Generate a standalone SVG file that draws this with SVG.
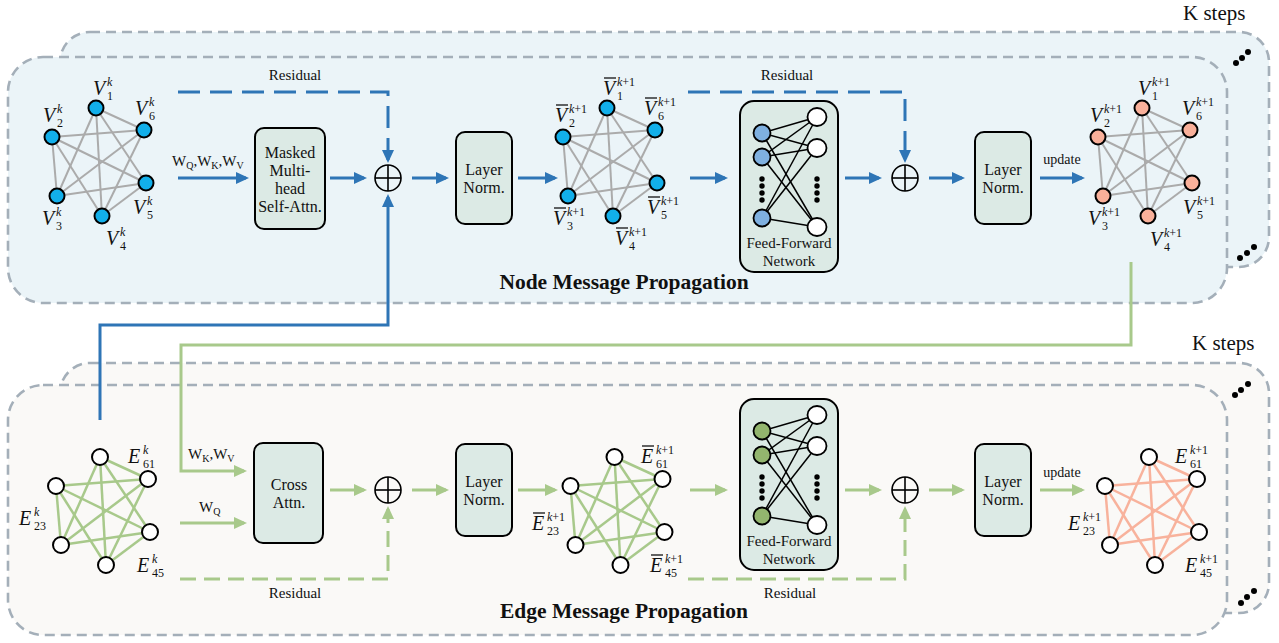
<svg xmlns="http://www.w3.org/2000/svg" xmlns:xlink="http://www.w3.org/1999/xlink" width="1279" height="643" viewBox="0 0 1279 643">
<style>
.panel{stroke:#A4AFB9;stroke-width:2.6;stroke-dasharray:10 6}
.pt{fill:#EBF4F8}
.pb{fill:#FAF9F7}
.box{fill:#DCEAE5;stroke:#000;stroke-width:2}
.t{font-family:"Liberation Serif","Times New Roman",serif;fill:#111}
.bt{font-size:16px;text-anchor:middle}
.res{font-size:15px;text-anchor:middle}
.ttl{font-size:21.5px;font-weight:bold;text-anchor:middle}
.ks{font-size:21px}
.mv{font-family:"Liberation Serif",serif;font-style:italic;font-size:20px;fill:#111}
.ms{font-family:"Liberation Serif",serif;font-size:12px;fill:#111}
.it{font-style:italic}
.bar{stroke:#111;stroke-width:1.3}
.ab{fill:none;stroke:#2E75B6;stroke-width:3}
.ag{fill:none;stroke:#A8C98B;stroke-width:3}
.dsb{stroke-dasharray:22 10}
.dsg{stroke-dasharray:16 8}
.plus{fill:none;stroke:#000;stroke-width:1.6}
.gray{stroke:#ABABAB;stroke-width:2}
.green{stroke:#A8C98B;stroke-width:2.5}
.salmon{stroke:#F8B29C;stroke-width:2.5}
.ffl{stroke:#000;stroke-width:1.5}
</style>
<defs>
<marker id="mb" viewBox="0 0 13 12" refX="10" refY="6" markerWidth="13" markerHeight="12" markerUnits="userSpaceOnUse" orient="auto"><path d="M0,0 L13,6 L0,12 z" fill="#2E75B6"/></marker>
<marker id="mg" viewBox="0 0 13 12" refX="10" refY="6" markerWidth="13" markerHeight="12" markerUnits="userSpaceOnUse" orient="auto"><path d="M0,0 L13,6 L0,12 z" fill="#A8C98B"/></marker>
<g id="edges">
<line x1="96" y1="108" x2="144" y2="130"/><line x1="96" y1="108" x2="57" y2="196"/><line x1="96" y1="108" x2="102" y2="216"/><line x1="96" y1="108" x2="146" y2="183"/>
<line x1="52" y1="137" x2="144" y2="130"/><line x1="52" y1="137" x2="57" y2="196"/><line x1="52" y1="137" x2="146" y2="183"/><line x1="52" y1="137" x2="102" y2="216"/>
<line x1="57" y1="196" x2="144" y2="130"/><line x1="57" y1="196" x2="146" y2="183"/><line x1="102" y1="216" x2="144" y2="130"/><line x1="102" y1="216" x2="146" y2="183"/>
</g>
<g id="nodesV" stroke="#000" stroke-width="2">
<circle cx="96" cy="108" r="7.5"/><circle cx="144" cy="130" r="7.5"/><circle cx="52" cy="137" r="7.5"/><circle cx="146" cy="183" r="7.5"/><circle cx="57" cy="196" r="7.5"/><circle cx="102" cy="216" r="7.5"/>
</g>
<g id="nodesE" stroke="#000" stroke-width="2" fill="#fff">
<circle cx="96" cy="108" r="8"/><circle cx="144" cy="130" r="8"/><circle cx="52" cy="137" r="8"/><circle cx="146" cy="183" r="8"/><circle cx="57" cy="196" r="8"/><circle cx="102" cy="216" r="8"/>
</g>
<g id="ffn">
<rect x="740" y="101" width="98" height="171" rx="14" class="box"/>
<g class="ffl">
<line x1="762" y1="133" x2="817" y2="117"/><line x1="762" y1="133" x2="817" y2="148"/><line x1="762" y1="133" x2="817" y2="227"/>
<line x1="762" y1="157" x2="817" y2="117"/><line x1="762" y1="157" x2="817" y2="148"/><line x1="762" y1="157" x2="817" y2="227"/>
<line x1="762" y1="218" x2="817" y2="117"/><line x1="762" y1="218" x2="817" y2="148"/><line x1="762" y1="218" x2="817" y2="227"/>
</g>
<g stroke="#000" stroke-width="1.8" fill="#fff">
<ellipse cx="817" cy="117" rx="9.5" ry="9"/><ellipse cx="817" cy="148" rx="9.5" ry="9"/><ellipse cx="817" cy="227" rx="9.5" ry="9"/>
</g>
<g fill="#000">
<circle cx="762" cy="179" r="2.7"/><circle cx="762" cy="186" r="2.7"/><circle cx="762" cy="193" r="2.7"/><circle cx="762" cy="200" r="2.7"/>
<circle cx="817" cy="179" r="2.7"/><circle cx="817" cy="186" r="2.7"/><circle cx="817" cy="193" r="2.7"/><circle cx="817" cy="200" r="2.7"/>
</g>
<text class="t" x="789" y="248" font-size="15" text-anchor="middle">Feed-Forward</text>
<text class="t" x="789" y="266" font-size="15" text-anchor="middle">Network</text>
</g>
<g id="ffin" stroke="#000" stroke-width="1.8">
<circle cx="762" cy="133" r="8.5"/><circle cx="762" cy="157" r="8.5"/><circle cx="762" cy="218" r="8.5"/>
</g>
<g id="plusg">
<circle cx="0" cy="0" r="13" class="plus"/>
<line x1="-13" y1="0" x2="13" y2="0" stroke="#000" stroke-width="1.6"/>
<line x1="0" y1="-13" x2="0" y2="13" stroke="#000" stroke-width="1.6"/>
</g>
</defs>

<g id="node-panel">
<rect x="60" y="32" width="1209" height="235" rx="30" class="pt panel"/>
<rect x="8" y="57" width="1219" height="246" rx="35" class="pt panel"/>
<g fill="#000"><circle cx="1236" cy="63" r="3"/><circle cx="1242" cy="58" r="3"/><circle cx="1248" cy="52" r="3"/>
<circle cx="1240" cy="258" r="3"/><circle cx="1247" cy="253" r="3"/><circle cx="1254" cy="247" r="3"/></g>
<text class="t ks" x="1183" y="20">K steps</text>
<text class="t ttl" x="624" y="289">Node Message Propagation</text>
</g>
<g id="edge-panel">
<rect x="60" y="363" width="1209" height="250" rx="30" class="pb panel"/>
<rect x="8" y="385" width="1219" height="250" rx="35" class="pb panel"/>
<g fill="#000"><circle cx="1235" cy="395" r="3"/><circle cx="1241" cy="390" r="3"/><circle cx="1248" cy="384" r="3"/>
<circle cx="1241" cy="603" r="3"/><circle cx="1247" cy="597" r="3"/><circle cx="1254" cy="591" r="3"/></g>
<text class="t ks" x="1192" y="350">K steps</text>
<text class="t ttl" x="624" y="618">Edge Message Propagation</text>
</g>

<g id="connectors">
<path class="ab" d="M178,178 H246" marker-end="url(#mb)"/>
<path class="ab" d="M330,178 H364" marker-end="url(#mb)"/>
<path class="ab" d="M412,178 H446" marker-end="url(#mb)"/>
<path class="ab" d="M518,178 H555" marker-end="url(#mb)"/>
<path class="ab" d="M690,178 H725" marker-end="url(#mb)"/>
<path class="ab" d="M845,178 H879" marker-end="url(#mb)"/>
<path class="ab" d="M929,178 H962" marker-end="url(#mb)"/>
<path class="ab" d="M1040,178 H1082" marker-end="url(#mb)"/>
<path class="ab dsb" d="M178,92 H388 V160" marker-end="url(#mb)"/>
<path class="ab dsb" d="M688,92 H905 V160" marker-end="url(#mb)"/>
<path class="ab" d="M100,420 V325 H388 V197" marker-end="url(#mb)"/>
<path class="ag" d="M1131,262 V345 H181 V471 H244" marker-end="url(#mg)"/>
<path class="ag" d="M180,523 H244" marker-end="url(#mg)"/>
<path class="ag" d="M330,490 H364" marker-end="url(#mg)"/>
<path class="ag" d="M412,490 H446" marker-end="url(#mg)"/>
<path class="ag" d="M518,490 H555" marker-end="url(#mg)"/>
<path class="ag" d="M690,490 H725" marker-end="url(#mg)"/>
<path class="ag" d="M845,490 H879" marker-end="url(#mg)"/>
<path class="ag" d="M929,490 H962" marker-end="url(#mg)"/>
<path class="ag" d="M1040,490 H1082" marker-end="url(#mg)"/>
<path class="ag dsg" d="M180,579 H388 V509" marker-end="url(#mg)"/>
<path class="ag dsg" d="M688,579 H905 V509" marker-end="url(#mg)"/>
<text class="t res" x="295" y="80">Residual</text>
<text class="t res" x="787" y="80">Residual</text>
<text class="t res" x="295" y="598">Residual</text>
<text class="t res" x="790" y="598">Residual</text>
<text class="t" x="172" y="166" font-size="15">W<tspan font-size="10" dy="3">Q</tspan><tspan dy="-3">,W</tspan><tspan font-size="10" dy="3">K</tspan><tspan dy="-3">,W</tspan><tspan font-size="10" dy="3">V</tspan></text>
<text class="t" x="188" y="459" font-size="15">W<tspan font-size="10" dy="3">K</tspan><tspan dy="-3">,W</tspan><tspan font-size="10" dy="3">V</tspan></text>
<text class="t" x="199" y="512" font-size="15">W<tspan font-size="10" dy="3">Q</tspan></text>
<text class="t" x="1062" y="164" font-size="14" text-anchor="middle">update</text>
<text class="t" x="1062" y="477" font-size="14" text-anchor="middle">update</text>
</g>

<g id="msa">
<rect x="255" y="128" width="70" height="101" rx="9" class="box"/>
<text class="t bt" x="290" y="158">Masked</text>
<text class="t bt" x="290" y="176">Multi-</text>
<text class="t bt" x="290" y="194">head</text>
<text class="t bt" x="290" y="212">Self-Attn.</text>
</g>
<g id="plus-top1" transform="translate(388,178)"><use xlink:href="#plusg"/></g>
<g id="ln-top1">
<rect x="456" y="132" width="56" height="92" rx="9" class="box"/>
<text class="t bt" x="484" y="175">Layer</text>
<text class="t bt" x="484" y="193">Norm.</text>
</g>
<g id="ffn-top"><use xlink:href="#ffn"/><use xlink:href="#ffin" fill="#7FB0E0"/></g>
<g id="plus-top2" transform="translate(905,178)"><use xlink:href="#plusg"/></g>
<g id="ln-top2">
<rect x="975" y="132" width="56" height="92" rx="9" class="box"/>
<text class="t bt" x="1003" y="175">Layer</text>
<text class="t bt" x="1003" y="193">Norm.</text>
</g>

<g id="cross-attn">
<rect x="254" y="443" width="69" height="100" rx="9" class="box"/>
<text class="t bt" x="289" y="490">Cross</text>
<text class="t bt" x="289" y="508">Attn.</text>
</g>
<g id="plus-bot1" transform="translate(388,490)"><use xlink:href="#plusg"/></g>
<g id="ln-bot1">
<rect x="456" y="444" width="56" height="92" rx="9" class="box"/>
<text class="t bt" x="484" y="487">Layer</text>
<text class="t bt" x="484" y="505">Norm.</text>
</g>
<g id="ffn-bot" transform="translate(0,298)"><use xlink:href="#ffn"/><use xlink:href="#ffin" fill="#93B56E"/></g>
<g id="plus-bot2" transform="translate(905,490)"><use xlink:href="#plusg"/></g>
<g id="ln-bot2">
<rect x="975" y="444" width="56" height="92" rx="9" class="box"/>
<text class="t bt" x="1003" y="487">Layer</text>
<text class="t bt" x="1003" y="505">Norm.</text>
</g>

<g id="graph-vk">
<use xlink:href="#edges" class="gray"/>
<use xlink:href="#nodesV" fill="#12AFEA"/>
<text class="mv" x="93" y="95">V</text><text class="ms it" x="107" y="86">k</text><text class="ms" x="107" y="100">1</text>
<text class="mv" x="135" y="115">V</text><text class="ms it" x="149" y="106">k</text><text class="ms" x="149" y="120">6</text>
<text class="mv" x="43" y="122">V</text><text class="ms it" x="57" y="113">k</text><text class="ms" x="57" y="127">2</text>
<text class="mv" x="133" y="214">V</text><text class="ms it" x="147" y="205">k</text><text class="ms" x="147" y="219">5</text>
<text class="mv" x="42" y="225">V</text><text class="ms it" x="56" y="216">k</text><text class="ms" x="56" y="230">3</text>
<text class="mv" x="106" y="245">V</text><text class="ms it" x="120" y="236">k</text><text class="ms" x="120" y="250">4</text>
</g>
<g id="graph-vbar">
<use xlink:href="#edges" class="gray" transform="translate(511,0)"/>
<use xlink:href="#nodesV" fill="#12AFEA" transform="translate(511,0)"/>
<text class="mv" x="603" y="95">V</text><line class="bar" x1="604" y1="78" x2="616" y2="78"/><text class="ms" x="617" y="86"><tspan class="it">k</tspan>+1</text><text class="ms" x="617" y="100">1</text>
<text class="mv" x="644" y="115">V</text><line class="bar" x1="645" y1="98" x2="657" y2="98"/><text class="ms" x="658" y="106"><tspan class="it">k</tspan>+1</text><text class="ms" x="658" y="120">6</text>
<text class="mv" x="555" y="122">V</text><line class="bar" x1="556" y1="105" x2="568" y2="105"/><text class="ms" x="569" y="113"><tspan class="it">k</tspan>+1</text><text class="ms" x="569" y="127">2</text>
<text class="mv" x="647" y="214">V</text><line class="bar" x1="648" y1="197" x2="660" y2="197"/><text class="ms" x="661" y="205"><tspan class="it">k</tspan>+1</text><text class="ms" x="661" y="219">5</text>
<text class="mv" x="553" y="225">V</text><line class="bar" x1="554" y1="208" x2="566" y2="208"/><text class="ms" x="567" y="216"><tspan class="it">k</tspan>+1</text><text class="ms" x="567" y="230">3</text>
<text class="mv" x="615" y="245">V</text><line class="bar" x1="616" y1="228" x2="628" y2="228"/><text class="ms" x="629" y="236"><tspan class="it">k</tspan>+1</text><text class="ms" x="629" y="250">4</text>
</g>
<g id="graph-vk1">
<use xlink:href="#edges" class="gray" transform="translate(1046,0)"/>
<use xlink:href="#nodesV" fill="#F9B09A" transform="translate(1046,0)"/>
<text class="mv" x="1138" y="95">V</text><text class="ms" x="1152" y="86"><tspan class="it">k</tspan>+1</text><text class="ms" x="1152" y="100">1</text>
<text class="mv" x="1182" y="115">V</text><text class="ms" x="1196" y="106"><tspan class="it">k</tspan>+1</text><text class="ms" x="1196" y="120">6</text>
<text class="mv" x="1090" y="122">V</text><text class="ms" x="1104" y="113"><tspan class="it">k</tspan>+1</text><text class="ms" x="1104" y="127">2</text>
<text class="mv" x="1183" y="214">V</text><text class="ms" x="1197" y="205"><tspan class="it">k</tspan>+1</text><text class="ms" x="1197" y="219">5</text>
<text class="mv" x="1088" y="225">V</text><text class="ms" x="1102" y="216"><tspan class="it">k</tspan>+1</text><text class="ms" x="1102" y="230">3</text>
<text class="mv" x="1150" y="246">V</text><text class="ms" x="1164" y="237"><tspan class="it">k</tspan>+1</text><text class="ms" x="1164" y="251">4</text>
</g>

<g id="graph-ek">
<use xlink:href="#edges" class="green" transform="translate(4,349)"/>
<use xlink:href="#nodesE" transform="translate(4,349)"/>
<text class="mv" x="128" y="463">E</text><text class="ms it" x="143" y="454">k</text><text class="ms" x="143" y="468">61</text>
<text class="mv" x="19" y="525">E</text><text class="ms it" x="34" y="516">k</text><text class="ms" x="34" y="530">23</text>
<text class="mv" x="137" y="572">E</text><text class="ms it" x="152" y="563">k</text><text class="ms" x="152" y="577">45</text>
</g>
<g id="graph-ebar">
<use xlink:href="#edges" class="green" transform="translate(518.5,349)"/>
<use xlink:href="#nodesE" transform="translate(518.5,349)"/>
<text class="mv" x="641" y="463">E</text><line class="bar" x1="642" y1="446" x2="654" y2="446"/><text class="ms" x="656" y="454"><tspan class="it">k</tspan>+1</text><text class="ms" x="656" y="468">61</text>
<text class="mv" x="532" y="530">E</text><line class="bar" x1="533" y1="513" x2="545" y2="513"/><text class="ms" x="547" y="521"><tspan class="it">k</tspan>+1</text><text class="ms" x="547" y="535">23</text>
<text class="mv" x="650" y="572">E</text><line class="bar" x1="651" y1="555" x2="663" y2="555"/><text class="ms" x="665" y="563"><tspan class="it">k</tspan>+1</text><text class="ms" x="665" y="577">45</text>
</g>
<g id="graph-ek1">
<use xlink:href="#edges" class="salmon" transform="translate(1053,349)"/>
<use xlink:href="#nodesE" transform="translate(1053,349)"/>
<text class="mv" x="1175" y="463">E</text><text class="ms" x="1190" y="454"><tspan class="it">k</tspan>+1</text><text class="ms" x="1190" y="468">61</text>
<text class="mv" x="1068" y="530">E</text><text class="ms" x="1083" y="521"><tspan class="it">k</tspan>+1</text><text class="ms" x="1083" y="535">23</text>
<text class="mv" x="1185" y="572">E</text><text class="ms" x="1200" y="563"><tspan class="it">k</tspan>+1</text><text class="ms" x="1200" y="577">45</text>
</g>
</svg>
